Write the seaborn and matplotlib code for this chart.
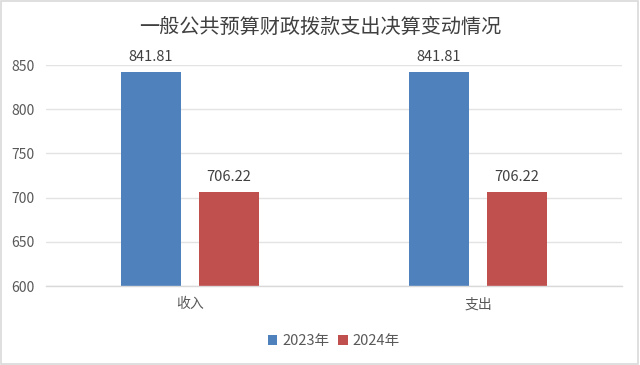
import numpy as np
import pandas as pd
import matplotlib
matplotlib.use('Agg')
import matplotlib.pyplot as plt
import seaborn as sns

# Chart data
categories = ['收入', '支出']
years = ['2023年', '2024年']
values_2023 = [841.81, 841.81]
values_2024 = [706.22, 706.22]
y_ticks = [600, 650, 700, 750, 800, 850]

colors = ['#4F81BD', '#C0504D']

df = pd.DataFrame({
    'category': categories * 2,
    'year': [years[0]] * len(categories) + [years[1]] * len(categories),
    'value': values_2023 + values_2024,
})

sns.set_style('white')
plt.rcParams['font.family'] = ['Noto Sans CJK SC', 'DejaVu Sans']

fig = plt.figure(figsize=(6.4, 3.65), dpi=100)
ax = fig.add_axes([0.0719, 0.2164, 0.9, 0.6055])

sns.barplot(data=df, x='category', y='value', hue='year', palette=colors,
            saturation=1, linewidth=0, width=0.542, gap=0.23, ax=ax, legend=True)

ax.set_ylim(600, 850)
ax.set_yticks(y_ticks)
ax.set_xlim(-0.5, 1.5)
ax.grid(axis='y', color='#E3E3E3', linewidth=1)
ax.set_axisbelow(True)
for side in ['top', 'right', 'left']:
    ax.spines[side].set_visible(False)
ax.spines['bottom'].set_color('#D9D9D9')
ax.spines['bottom'].set_linewidth(1)
ax.tick_params(axis='both', length=0, colors='#595959', labelsize=10)
ax.tick_params(axis='y', pad=8)
ax.tick_params(axis='x', pad=8)
ax.set_xlabel('')
ax.set_ylabel('')

for cont in ax.containers:
    ax.bar_label(cont, fmt='%.2f', padding=6, fontsize=10.5, color='#404040')

handles, labels = ax.get_legend_handles_labels()
ax.legend(handles, labels, loc='center', bbox_to_anchor=(0.5, -0.25),
          ncol=2, frameon=False, fontsize=10.5, handlelength=0.65, handleheight=0.65,
          handletextpad=0.35, columnspacing=0.6, labelcolor='#595959')

fig.text(0.5, 0.925, '一般公共预算财政拨款支出决算变动情况', ha='center', va='center',
         fontsize=14.5, color='#404040')

# light border around the figure
fig.patches.append(plt.Rectangle((0.002, 0.003), 0.995, 0.994, transform=fig.transFigure,
                                 fill=False, edgecolor='#D9D9D9', linewidth=1.2))

fig.savefig('out.png', dpi=100)
